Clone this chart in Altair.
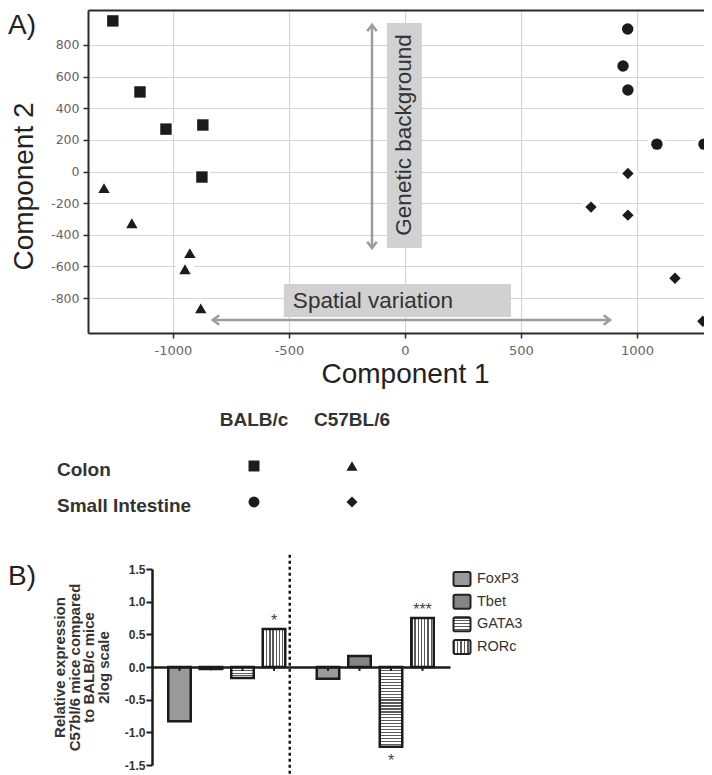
import altair as alt
import pandas as pd

# ---------------- Panel A: PCA component scores ----------------
group_names = ["BALB/c Colon", "C57BL/6 Colon", "BALB/c Small Intestine", "C57BL/6 Small Intestine"]
group_shapes = ["square", "triangle-up", "circle", "diamond"]

balb_colon_x = [-1259, -1142, -1030, -871, -875]
balb_colon_y = [952, 503, 268, 294, -35]
c57_colon_x = [-1297, -1177, -927, -948, -880]
c57_colon_y = [-105, -327, -516, -618, -865]
balb_si_x = [960, 940, 961, 1086, 1289]
balb_si_y = [901, 667, 515, 173, 173]
c57_si_x = [961, 802, 961, 1164, 1284]
c57_si_y = [-13, -225, -276, -675, -947]

x_ticks = [-1000, -500, 0, 500, 1000]
y_ticks = [-800, -600, -400, -200, 0, 200, 400, 600, 800]
x_domain = [-1366, 1289]
y_domain = [-1021, 1021]

# annotations (in Component 1 / Component 2 units)
box_x = [-522, -78]
box_x2 = [457, 73]
box_y = [-712, 939]
box_y2 = [-920, -484]
spatial_label = ["Spatial variation"]
spatial_pos = [-483, -819]
genetic_label = ["Genetic background"]
genetic_pos = [-4, 231]
arrow_x = [-828, -142]
arrow_x2 = [884, -142]
arrow_y = [-939, 927]
arrow_y2 = [-939, -484]
head_x = [-828, 884, -142, -142]
head_y = [-939, -939, 927, -484]
head_angle = [180, 0, 270, 90]

strains = ["BALB/c", "C57BL/6"]
tissues = ["Colon", "Small Intestine"]

# ---------------- Panel B: relative expression ----------------
genes = ["FoxP3", "Tbet", "GATA3", "RORc"]
bar_groups = ["Colon", "Small Intestine"]
colon_values = [-0.83, -0.03, -0.17, 0.58]
si_values = [-0.18, 0.17, -1.22, 0.75]
colon_sem = [0.06, 0.05, 0.06, 0.06]
si_sem = [0.06, 0.06, 0.06, 0.06]
colon_sig = ["", "", "", "*"]
si_sig = ["", "", "*", "***"]
b_ticks = [-1.5, -1.0, -0.5, 0.0, 0.5, 1.0, 1.5]
b_domain = [-1.5, 1.5]
sep_span = [1.72, -1.66]

# ---------------- styles ----------------
FONT = "Liberation Sans"
GRID = "#d5d5d5"
AXC = "#2b2b2b"
INK = "#1b1b1b"
ARROW = "#9c9c9c"
BOXC = "#d1d1d1"
CHEVRON = "M-1,-0.75L0,0L-1,0.75"
ROUNDED = ("M-0.78,-0.82L0.78,-0.82Q1,-0.82 1,-0.6L1,0.6Q1,0.82 0.78,0.82"
           "L-0.78,0.82Q-1,0.82 -1,0.6L-1,-0.6Q-1,-0.82 -0.78,-0.82Z")


def stripes(n, vertical, dark="#5a5a5a", light="#ffffff", frac=0.42):
    stops = []
    for i in range(n):
        a, b, c = i / n, (i + frac) / n, (i + 1) / n
        stops += [alt.GradientStop(offset=a, color=dark), alt.GradientStop(offset=b, color=dark),
                  alt.GradientStop(offset=b, color=light), alt.GradientStop(offset=c, color=light)]
    if vertical:
        return alt.LinearGradient(gradient="linear", stops=stops, x1=0, x2=1, y1=0, y2=0)
    return alt.LinearGradient(gradient="linear", stops=stops, x1=0, x2=0, y1=0, y2=1)


PX_PER_UNIT = (757 - 561) / 3.0


def gene_fill(gene, value):
    if gene == "FoxP3":
        return "#9a9a9a"
    if gene == "Tbet":
        return "#858585"
    if gene == "GATA3":
        return stripes(max(2, round(abs(value) * PX_PER_UNIT / 3.0)), vertical=False)
    return stripes(7, vertical=True)


def legend_fill(gene):
    if gene == "FoxP3":
        return "#9a9a9a"
    if gene == "Tbet":
        return "#858585"
    if gene == "GATA3":
        return stripes(5, vertical=False)
    return stripes(5, vertical=True)


# ---------------- data frames ----------------
rows = []
for g, xs, ys in zip(group_names,
                     [balb_colon_x, c57_colon_x, balb_si_x, c57_si_x],
                     [balb_colon_y, c57_colon_y, balb_si_y, c57_si_y]):
    for a, b in zip(xs, ys):
        rows.append({"x": a, "y": b, "group": g})
scatter_df = pd.DataFrame(rows)

box_df = pd.DataFrame({"x": box_x, "x2": box_x2, "y": box_y, "y2": box_y2})
arrow_df = pd.DataFrame({"x": arrow_x, "x2": arrow_x2, "y": arrow_y, "y2": arrow_y2})
head_df = pd.DataFrame({"x": head_x, "y": head_y, "ang": head_angle})
spatial_df = pd.DataFrame({"x": [spatial_pos[0]], "y": [spatial_pos[1]], "t": spatial_label})
genetic_df = pd.DataFrame({"x": [genetic_pos[0]], "y": [genetic_pos[1]], "t": genetic_label})

leg_df = pd.DataFrame({
    "strain": [s for t in tissues for s in strains],
    "tissue": [t for t in tissues for s in strains],
    "group": [f"{s} {t}" for t in tissues for s in strains],
})

bar_rows = []
for grp, vals, sems, sigs in zip(bar_groups, [colon_values, si_values], [colon_sem, si_sem], [colon_sig, si_sig]):
    for gene, v, s, sg in zip(genes, vals, sems, sigs):
        bar_rows.append({"group": grp, "gene": gene, "value": v, "lo": -s, "sig": sg})
bar_df = pd.DataFrame(bar_rows)

# ---------------- Panel A chart ----------------
XS = alt.Scale(domain=x_domain, range=[80, 696], nice=False, zero=False)
YS = alt.Scale(domain=y_domain, range=[325, 2], nice=False, zero=False)
SHAPE = alt.Scale(domain=group_names, range=group_shapes)

# grid-only axes (drawn behind the marks)
x_grid_axis = alt.Axis(orient="top", offset=-2, values=x_ticks, grid=True, gridColor=GRID, gridWidth=1.2,
                       labels=False, ticks=False, domain=False, title=None, zindex=0)
y_grid_axis = alt.Axis(orient="left", offset=-80, values=y_ticks, grid=True, gridColor=GRID, gridWidth=1.2,
                       labels=False, ticks=False, domain=False, title=None, zindex=0)
# frame / labelled axes (drawn above the marks)
top_axis = alt.Axis(orient="top", offset=-2, values=x_ticks, grid=False, labels=False, ticks=False,
                    domain=True, domainColor=AXC, domainWidth=2, title=None, zindex=1)
left_axis = alt.Axis(orient="left", offset=-80, values=y_ticks, grid=False,
                     domain=True, domainColor=AXC, domainWidth=2, ticks=True, tickColor=AXC, tickSize=5,
                     tickWidth=1.5, labelFont="DejaVu Sans", labelFontSize=12.5, labelColor="#666666",
                     labelPadding=4,
                     labelExpr="(datum.value < 0 ? '-' : '') + format(abs(datum.value), 'd')",
                     title="Component 2", titleFont=FONT, titleFontSize=28, titleFontWeight="normal",
                     titleColor="#222222", titlePadding=12, titleY=178, zindex=1)
bottom_axis = alt.Axis(orient="bottom", offset=-442, values=x_ticks, grid=False, domain=True, domainColor=AXC,
                       domainWidth=2, ticks=True, tickColor=AXC, tickSize=5, tickWidth=1.5,
                       labelFont="DejaVu Sans", labelFontSize=13, labelColor="#666666", labelPadding=6,
                       labelExpr="(datum.value < 0 ? '-' : '') + format(abs(datum.value), 'd')",
                       title="Component 1", titleFont=FONT, titleFontSize=28, titleFontWeight="normal",
                       titleColor="#222222", titlePadding=3, titleX=397, zindex=1)

halo = alt.Chart(scatter_df).mark_point(filled=True, shape="circle", size=380, color="white",
                                         opacity=1, strokeWidth=0).encode(
    x=alt.X("x:Q", scale=XS, axis=x_grid_axis),
    y=alt.Y("y:Q", scale=YS, axis=y_grid_axis),
)
boxes = alt.Chart(box_df).mark_rect(color=BOXC).encode(
    x=alt.X("x:Q", scale=XS, axis=top_axis), x2="x2:Q",
    y=alt.Y("y:Q", scale=YS, axis=left_axis), y2="y2:Q",
)
spatial_text = alt.Chart(spatial_df).mark_text(align="left", baseline="middle", font=FONT, fontSize=22.5,
                                               color="#333333").encode(
    x=alt.X("x:Q", scale=XS, axis=None), y=alt.Y("y:Q", scale=YS, axis=None), text="t:N")
genetic_text = alt.Chart(genetic_df).mark_text(align="center", baseline="middle", angle=270, font=FONT,
                                               fontSize=22.5, color="#333333").encode(
    x=alt.X("x:Q", scale=XS, axis=None), y=alt.Y("y:Q", scale=YS, axis=None), text="t:N")
arrows = alt.Chart(arrow_df).mark_rule(color=ARROW, strokeWidth=2.5).encode(
    x=alt.X("x:Q", scale=XS, axis=None), x2="x2:Q",
    y=alt.Y("y:Q", scale=YS, axis=None), y2="y2:Q",
)
heads = alt.Chart(head_df).mark_point(shape=CHEVRON, filled=False, color=ARROW, strokeWidth=2.5,
                                       size=160, opacity=1).encode(
    x=alt.X("x:Q", scale=XS, axis=None), y=alt.Y("y:Q", scale=YS, axis=None),
    angle=alt.Angle("ang:Q", scale=None),
)
markers = alt.Chart(scatter_df).mark_point(filled=True, opacity=1, size=130, color=INK).encode(
    x=alt.X("x:Q", scale=XS, axis=bottom_axis),
    y=alt.Y("y:Q", scale=YS, axis=None),
    shape=alt.Shape("group:N", scale=SHAPE, legend=None),
)
panel_a = alt.layer(halo, boxes, spatial_text, genetic_text, arrows, heads, markers).resolve_axis(
    x="independent", y="independent")

# ---------------- symbol key ----------------
SX = alt.Scale(type="point", domain=strains, range=[246, 344], padding=0)
TY = alt.Scale(type="point", domain=tissues, range=[458, 494], padding=0)
key_marks = alt.Chart(leg_df).mark_point(filled=True, opacity=1, size=120, color=INK).encode(
    x=alt.X("strain:N", scale=SX, axis=None),
    y=alt.Y("tissue:N", scale=TY, axis=None),
    shape=alt.Shape("group:N", scale=SHAPE, legend=None),
)
key_head = alt.Chart(pd.DataFrame({"strain": strains})).mark_text(
    font=FONT, fontSize=19, fontWeight="bold", color="#333333", baseline="middle").encode(
    x=alt.X("strain:N", scale=SX, axis=None), y=alt.value(412), text="strain:N")
key_rows = alt.Chart(pd.DataFrame({"tissue": tissues})).mark_text(
    font=FONT, fontSize=19, fontWeight="bold", color="#333333", align="left", baseline="middle", dy=4).encode(
    x=alt.value(49), y=alt.Y("tissue:N", scale=TY, axis=None), text="tissue:N")
key = alt.layer(key_marks, key_head, key_rows)

# ---------------- Panel B chart ----------------
BX = alt.Scale(domain=bar_groups, range=[144, 442], paddingInner=0.1515, paddingOuter=0.0791)
BXO = alt.Scale(domain=genes, paddingInner=0.286, paddingOuter=0.143)
BY = alt.Scale(domain=b_domain, range=[757, 561], nice=False)

zero_axis = alt.Axis(orient="bottom", offset=-108, labels=False, ticks=False, grid=False, domain=True,
                     domainColor=INK, domainWidth=2.5, title=None, zindex=1)
b_left_axis = alt.Axis(orient="left", offset=-144, values=b_ticks, grid=False, domain=True, domainColor=INK,
                       domainWidth=2.5, ticks=True, tickColor=INK, tickSize=6, tickWidth=2,
                       labelExpr="(datum.value < 0 ? '-' : '') + format(abs(datum.value), '.1f')",
                       labelFont=FONT, labelFontSize=12, labelFontWeight="bold", labelColor="#333333",
                       labelPadding=1,
                       title=["Relative expression", "C57bl/6 mice compared", "to BALB/c mice", "2log scale"],
                       titleFont=FONT, titleFontSize=15, titleFontWeight="bold", titleColor="#333333",
                       titleLineHeight=14.5, titlePadding=13)

bar_layers = []
for i in range(len(bar_df)):
    r = bar_df.iloc[i]
    first = i == 0
    bar_layers.append(
        alt.Chart(bar_df.iloc[[i]]).mark_bar(fill=gene_fill(r["gene"], r["value"]), stroke=INK,
                                              strokeWidth=2.5, opacity=1).encode(
            x=alt.X("group:N", scale=BX, axis=zero_axis if first else None),
            xOffset=alt.XOffset("gene:N", scale=BXO),
            y=alt.Y("value:Q", scale=BY, axis=b_left_axis if first else None),
            y2=alt.datum(0),
        )
    )
err = alt.Chart(bar_df).mark_rule(color=INK, strokeWidth=2).encode(
    x=alt.X("group:N", scale=BX, axis=None), xOffset=alt.XOffset("gene:N", scale=BXO),
    y=alt.Y("lo:Q", scale=BY, axis=None), y2=alt.datum(0))
sig_pos = alt.Chart(bar_df[(bar_df["sig"] != "") & (bar_df["value"] > 0)]).mark_text(
    font=FONT, fontSize=16, color="#444444", baseline="alphabetic", dy=-3).encode(
    x=alt.X("group:N", scale=BX, axis=None), xOffset=alt.XOffset("gene:N", scale=BXO),
    y=alt.Y("value:Q", scale=BY, axis=None), text="sig:N")
sig_neg = alt.Chart(bar_df[(bar_df["sig"] != "") & (bar_df["value"] < 0)]).mark_text(
    font=FONT, fontSize=16, color="#444444", baseline="alphabetic", dy=19).encode(
    x=alt.X("group:N", scale=BX, axis=None), xOffset=alt.XOffset("gene:N", scale=BXO),
    y=alt.Y("value:Q", scale=BY, axis=None), text="sig:N")
sep = alt.Chart(pd.DataFrame({"group": [bar_groups[0]], "top": [sep_span[0]], "bot": [sep_span[1]]})).mark_rule(
    color=INK, strokeWidth=2.5, strokeDash=[3, 3]).encode(
    x=alt.X("group:N", scale=BX, bandPosition=1, axis=None),
    y=alt.Y("top:Q", scale=BY, axis=None), y2="bot:Q")
panel_b = alt.layer(*bar_layers, err, sig_pos, sig_neg, sep).resolve_axis(x="independent", y="independent")

# ---------------- Panel B legend ----------------
BL = alt.Scale(type="point", domain=genes, range=[571, 639], padding=0)
sw_layers = []
for gname in genes:
    sw_layers.append(
        alt.Chart(pd.DataFrame({"gene": [gname]})).mark_point(
            shape=ROUNDED, size=289, filled=True, fill=legend_fill(gname), stroke="#222222",
            strokeWidth=2, opacity=1).encode(
            x=alt.value(454), y=alt.Y("gene:N", scale=BL, axis=None))
    )
sw_text = alt.Chart(pd.DataFrame({"gene": genes})).mark_text(
    font=FONT, fontSize=14.5, color="#333333", align="left", baseline="middle").encode(
    x=alt.value(469), y=alt.Y("gene:N", scale=BL, axis=None), text="gene:N")
b_legend = alt.layer(*sw_layers, sw_text)

# ---------------- panel letters ----------------
lab_a = alt.Chart(pd.DataFrame({"t": ["A)"]})).mark_text(
    font=FONT, fontSize=28, color="#222222", align="left", baseline="alphabetic").encode(
    x=alt.value(0), y=alt.value(26), text="t:N")
lab_b = alt.Chart(pd.DataFrame({"t": ["B)"]})).mark_text(
    font=FONT, fontSize=28, color="#222222", align="left", baseline="alphabetic").encode(
    x=alt.value(0), y=alt.value(577), text="t:N")

chart = alt.layer(panel_a, key, panel_b, b_legend, lab_a, lab_b).resolve_scale(
    x="independent", y="independent"
).properties(
    width=696, height=767, padding=0, background="white",
    autosize=alt.AutoSizeParams(type="none"),
).configure_view(stroke="transparent")

chart.save("out.html", embed_options={"renderer": "svg", "actions": False})
